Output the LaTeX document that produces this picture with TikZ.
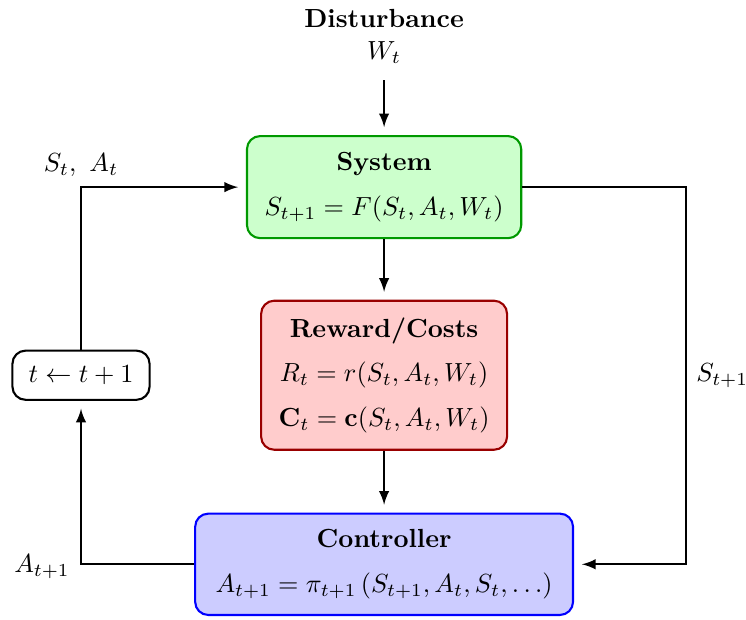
\documentclass[tikz,border=0pt]{standalone}
\usetikzlibrary{arrows}
\begin{document}
\begin{tikzpicture}[
  box/.style={draw,rounded corners=5pt,thick,align=center,inner sep=4pt},
  arr/.style={-latex,thick,shorten >=3pt}]
\useasboundingbox (0,0) rectangle (10.01,8.31);
\node[font=\bfseries] (dist) at (5.154,8.067) {Disturbance};
\node (wt) at (5.154,7.611) {$W_t$};
\coordinate (wsrc) at (5.154,7.235);
\node[box,draw=green!60!black,fill=green!20,minimum width=3.68cm,minimum height=1.37cm] (sys) at (5.154,5.799)
  {\textbf{System}\\[5pt] $S_{t+1}=F(S_t,A_t,W_t)$};
\node[box,draw=red!60!black,fill=red!20,minimum width=3.3cm,minimum height=2cm] (rew) at (5.154,3.275)
  {\textbf{Reward/Costs}\\[5pt] $R_t=r(S_t,A_t,W_t)$\\[5pt] $\mathbf{C}_t=\mathbf{c}(S_t,A_t,W_t)$};
\node[box,draw=blue,fill=blue!20,minimum width=5.07cm,minimum height=1.36cm] (ctrl) at (5.154,0.738)
  {\textbf{Controller}\\[5pt] $A_{t+1}=\pi_{t+1}\left(S_{t+1},A_t,S_t,\dots\right)$};
\node[box,draw=black,fill=white,minimum width=1.84cm,minimum height=0.66cm] (tick) at (1.087,3.275) {$t\leftarrow t+1$};
\coordinate (rgt) at (9.208,3.275);
\node (lsa) at (1.087,6.094) {$S_t,\ A_t$};
\node (lsn) at (9.69,3.275) {$S_{t+1}$};
\node (lan) at (0.564,0.711) {$A_{t+1}$};
\draw[arr] (wsrc) -- (sys.north);
\draw[arr] (sys.south) -- (rew.north);
\draw[arr] (rew.south) -- (ctrl.north);
\draw[arr] (tick.north) |- (sys.west);
\draw[arr] (sys.east) -| (rgt) |- (ctrl.east);
\draw[arr] (ctrl.west) -| (tick.south);
\end{tikzpicture}
\end{document}
